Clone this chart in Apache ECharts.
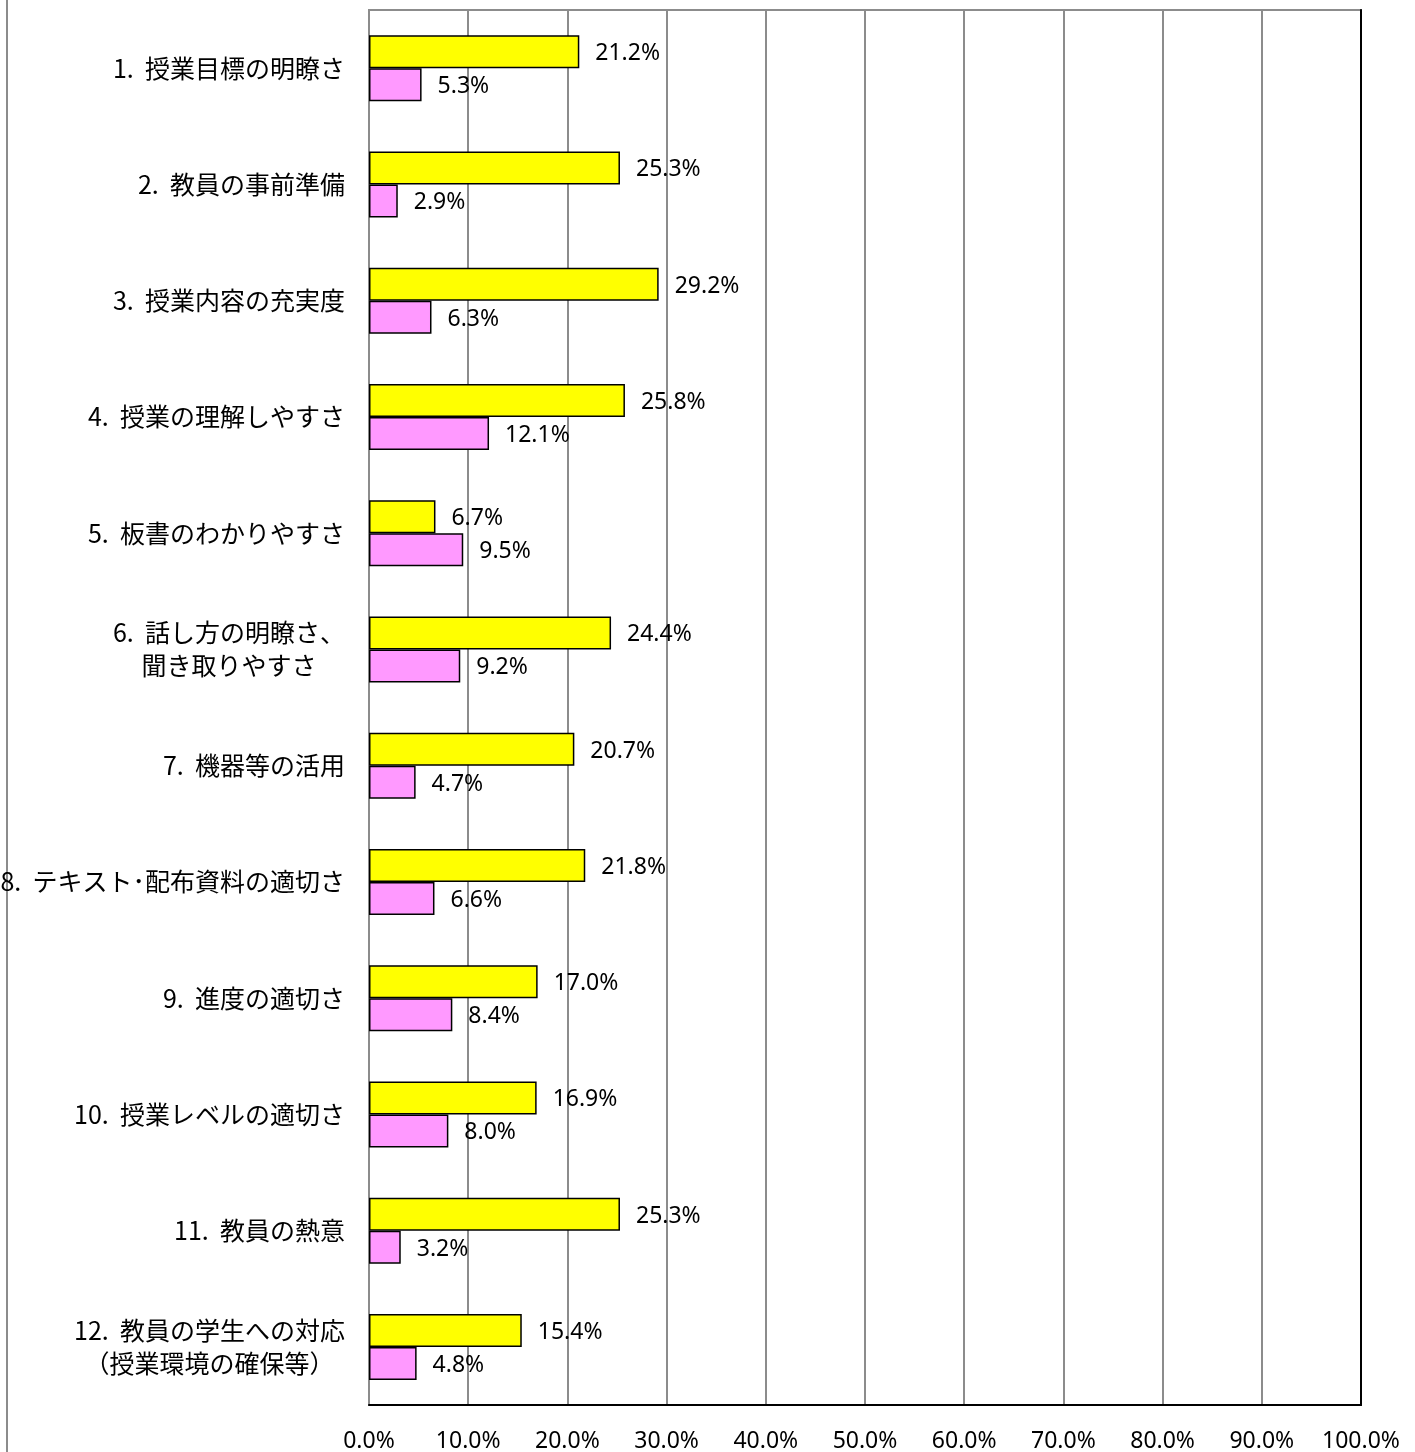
<!DOCTYPE html>
<html>
<head>
<meta charset="utf-8">
<script src="https://cdn.jsdelivr.net/npm/echarts@6/dist/echarts.min.js"></script>
<style>
  html, body { margin: 0; padding: 0; background: #fff; }
  #chart { width: 1415px; height: 1452px; }
</style>
</head>
<body>
<div id="chart"></div>
<script>
const categories = [
  "1.  授業目標の明瞭さ",
  "2.  教員の事前準備",
  "3.  授業内容の充実度",
  "4.  授業の理解しやすさ",
  "5.  板書のわかりやすさ",
  "6.  話し方の明瞭さ、\n聞き取りやすさ",
  "7.  機器等の活用",
  "8.  テキスト･配布資料の適切さ",
  "9.  進度の適切さ",
  "10.  授業レベルの適切さ",
  "11.  教員の熱意",
  "12.  教員の学生への対応\n（授業環境の確保等）"
];
const yellowValues = [21.2, 25.3, 29.2, 25.8, 6.7, 24.4, 20.7, 21.8, 17.0, 16.9, 25.3, 15.4];
const pinkValues = [5.3, 2.9, 6.3, 12.1, 9.5, 9.2, 4.7, 6.6, 8.4, 8.0, 3.2, 4.8];

const chart = echarts.init(document.getElementById("chart"), null, { renderer: "canvas" });

const labelFont = "'Noto Sans', 'Noto Sans CJK JP', sans-serif";
const jpFont = "'Noto Sans CJK JP', sans-serif";

const barLabel = {
  show: true,
  position: "right",
  distance: 16,
  offset: [0, 2],
  color: "#000",
  fontSize: 23,
  fontFamily: labelFont,
  formatter: (p) => p.value.toFixed(1) + "%"
};

const option = {
  animation: false,
  grid: {
    left: 369,
    right: 54,
    top: 10,
    bottom: 47,
    outerBoundsMode: "none",
    containLabel: false,
    show: true,
    borderColor: "#8c8c8c",
    borderWidth: 2
  },
  graphic: [
    {
      type: "line",
      shape: { x1: 7, y1: 0, x2: 7, y2: 1452 },
      style: { stroke: "#8c8c8c", lineWidth: 2 }
    }
  ],
  xAxis: {
    type: "value",
    min: 0,
    max: 100,
    interval: 10,
    axisLine: { show: true, lineStyle: { color: "#000", width: 2 } },
    axisTick: { show: false },
    splitLine: { show: true, lineStyle: { color: "#8c8c8c", width: 2 } },
    axisLabel: {
      color: "#000",
      fontSize: 23,
      fontFamily: labelFont,
      margin: 25,
      formatter: (v) => v.toFixed(1) + "%"
    }
  },
  yAxis: [
    {
      type: "category",
      data: categories,
      inverse: true,
      axisLine: { show: true, lineStyle: { color: "#8c8c8c", width: 2 } },
      axisTick: { show: false },
      axisLabel: {
        color: "#000",
        fontSize: 25,
        fontFamily: jpFont,
        margin: 24,
        lineHeight: 33,
        formatter: (v) => v.split("\n").map((s) => "{c|" + s + "}").join("\n"),
        rich: {
          c: { align: "center", fontSize: 25, fontFamily: jpFont, color: "#000", lineHeight: 33 }
        }
      }
    },
    {
      type: "category",
      data: categories,
      inverse: true,
      position: "right",
      axisLine: { show: true, lineStyle: { color: "#000", width: 2 } },
      axisTick: { show: false },
      axisLabel: { show: false }
    }
  ],
  series: [
    {
      name: "yellow",
      type: "bar",
      data: yellowValues,
      barWidth: 33,
      barGap: "0%",
      itemStyle: { color: "#ffff00", borderColor: "#000", borderWidth: 1.5 },
      label: barLabel
    },
    {
      name: "pink",
      type: "bar",
      data: pinkValues,
      barWidth: 33,
      barGap: "0%",
      itemStyle: { color: "#ff99ff", borderColor: "#000", borderWidth: 1.5 },
      label: barLabel
    }
  ]
};

chart.setOption(option);
</script>
</body>
</html>
